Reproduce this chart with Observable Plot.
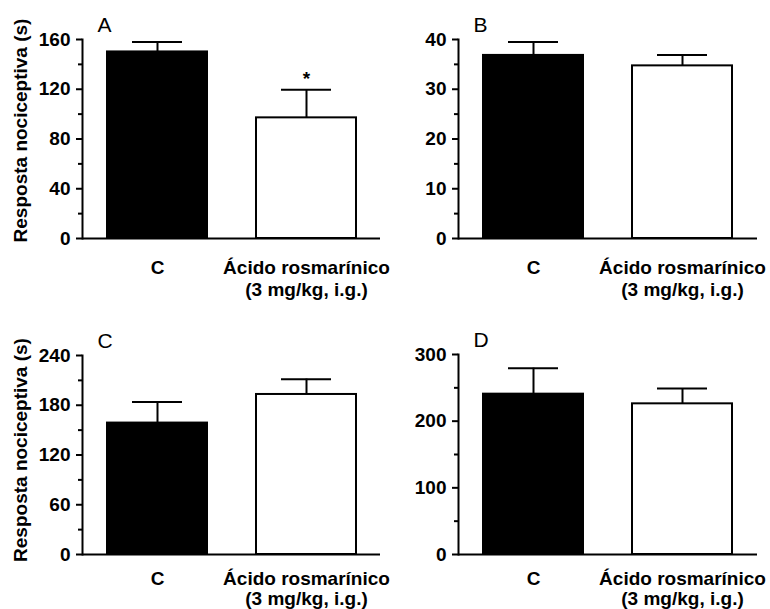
<!DOCTYPE html>
<html>
<head>
<meta charset="utf-8">
<script src="https://cdn.jsdelivr.net/npm/d3@7"></script>
<script src="https://cdn.jsdelivr.net/npm/@observablehq/plot@0.6"></script>
<style>
  body { margin: 0; background: #fff; }
  #wrap { position: relative; width: 770px; height: 609px; overflow: hidden; background: #fff; }
  #wrap > div { position: absolute; }
</style>
</head>
<body>
<div id="wrap"></div>
<script>
// ---- data ----
const categories = ["C", "Ácido rosmarínico"];
const categoryLabels = ["C", "Ácido rosmarínico\n(3 mg/kg, i.g.)"];
const barFills = ["black", "white"];
const yAxisTitle = "Resposta nociceptiva (s)";
const panelLetters = ["A", "B", "C", "D"];

const meanA = [150, 97];
const semA = [8, 22.5];
const signifA = ["", "*"];
const ticksA = [0, 40, 80, 120, 160];
const minorA = [20, 60, 100, 140];

const meanB = [36.8, 34.7];
const semB = [2.7, 2.2];
const signifB = ["", ""];
const ticksB = [0, 10, 20, 30, 40];
const minorB = [5, 15, 25, 35];

const meanC = [158.5, 193];
const semC = [25.5, 18.5];
const signifC = ["", ""];
const ticksC = [0, 60, 120, 180, 240];
const minorC = [30, 90, 150, 210];

const meanD = [240.5, 226];
const semD = [39, 23];
const signifD = ["", ""];
const ticksD = [0, 100, 200, 300];
const minorD = [50, 150, 250];

// ---- layout ----
const panels = [
  {letter: panelLetters[0], mean: meanA, sem: semA, signif: signifA, ticks: ticksA, minor: minorA, showTitle: true, titleDy: -8.5,
   left: 0, top: 0, width: 385, height: 300, mL: 82, mR: 5, mT: 39, mB: 62, xPad: 20, xLH: 1.14},
  {letter: panelLetters[1], mean: meanB, sem: semB, signif: signifB, ticks: ticksB, minor: minorB, showTitle: false,
   left: 385, top: 0, width: 385, height: 300, mL: 73, mR: 13, mT: 39, mB: 62, xPad: 20, xLH: 1.14},
  {letter: panelLetters[2], mean: meanC, sem: semC, signif: signifC, ticks: ticksC, minor: minorC, showTitle: true, titleDy: -5,
   left: 0, top: 300, width: 385, height: 309, mL: 82, mR: 5, mT: 55, mB: 55, xPad: 16, xLH: 1.05},
  {letter: panelLetters[3], mean: meanD, sem: semD, signif: signifD, ticks: ticksD, minor: minorD, showTitle: false,
   left: 385, top: 300, width: 385, height: 309, mL: 73, mR: 13, mT: 54, mB: 55, xPad: 16, xLH: 1.05}
];

const wrap = document.getElementById("wrap");

for (const p of panels) {
  const rows = categories.map((c, i) => ({
    cat: c, mean: p.mean[i], sem: p.sem[i], top: p.mean[i] + p.sem[i], fill: barFills[i], signif: p.signif[i]
  }));
  const ymax = p.ticks[p.ticks.length - 1];
  const marks = [
    Plot.barY(rows, {x: "cat", y: "mean", fill: "fill", stroke: "black", strokeWidth: 2}),
    Plot.ruleX(rows, {x: "cat", y1: "mean", y2: "top", stroke: "black", strokeWidth: 2}),
    Plot.tickY(rows, {x: "cat", y: "top", stroke: "black", strokeWidth: 2, insetLeft: 25, insetRight: 25}),
    Plot.text(rows.filter(d => d.signif), {x: "cat", y: "top", text: "signif", lineAnchor: "middle", dy: -11, fontSize: 19, fontWeight: "bold"}),
    Plot.ruleY([0], {stroke: "black", strokeWidth: 2}),
    Plot.frame({anchor: "left", stroke: "black", strokeWidth: 2}),
    Plot.axisY({ticks: p.ticks, tickSize: 6, tickPadding: 6, strokeWidth: 2, label: null, tickFormat: d => String(d)}),
    Plot.axisY({ticks: p.minor, tickSize: 4, tickPadding: 0, strokeWidth: 2, label: null, tickFormat: () => ""}),
    Plot.axisX({tickSize: 0, tickPadding: p.xPad, label: null, lineHeight: p.xLH,
                tickFormat: d => categoryLabels[categories.indexOf(d)]}),
    Plot.text([p.letter], {text: d => d, frameAnchor: "top-left", textAnchor: "start", lineAnchor: "bottom",
                           dx: 15, dy: -7.5, fontSize: 21, fontWeight: "normal"})
  ];
  if (p.showTitle) {
    marks.push(Plot.text([yAxisTitle], {text: d => d, frameAnchor: "left", rotate: -90, textAnchor: "middle",
                                        lineAnchor: "middle", dx: -62, dy: p.titleDy, fontSize: 19, fontWeight: "bold"}));
  }
  const svg = Plot.plot({
    width: p.width,
    height: p.height,
    marginLeft: p.mL,
    marginRight: p.mR,
    marginTop: p.mT,
    marginBottom: p.mB,
    style: {fontFamily: "'Liberation Sans', Arial, sans-serif", fontSize: "19px", fontWeight: "bold", background: "transparent", overflow: "visible", color: "black"},
    x: {domain: categories, paddingInner: 0.33, paddingOuter: 0.165, label: null},
    y: {domain: [0, ymax], label: null},
    color: {type: "identity"},
    marks
  });
  const holder = document.createElement("div");
  holder.style.left = p.left + "px";
  holder.style.top = p.top + "px";
  holder.appendChild(svg);
  wrap.appendChild(holder);
}
</script>
</body>
</html>
